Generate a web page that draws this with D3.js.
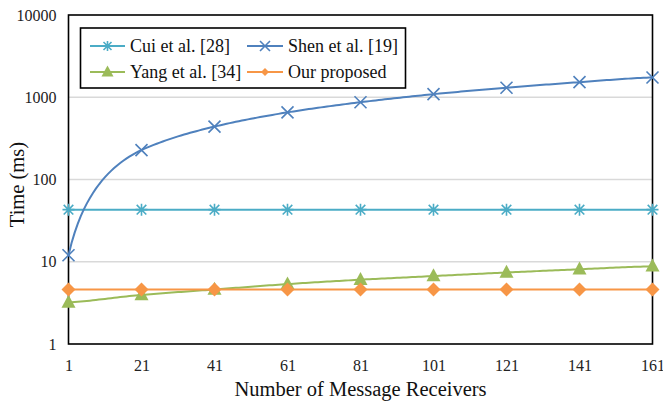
<!DOCTYPE html>
<html>
<head>
<meta charset="utf-8">
<script src="https://cdn.jsdelivr.net/npm/d3@7"></script>
<style>
  html, body { margin: 0; padding: 0; background: #fff; }
</style>
</head>
<body>
<svg id="chart" width="663" height="402"></svg>
<script>
// Receivers on the x axis and timing results (ms) per scheme
const receivers = [1, 21, 41, 61, 81, 101, 121, 141, 161];
const cuiTimes   = [43, 43, 43, 43, 43, 43, 43, 43, 43];
const shenTimes  = [12, 228, 440, 655, 870, 1090, 1305, 1525, 1740];
const yangTimes  = [3.2, 3.95, 4.6, 5.35, 6.05, 6.7, 7.4, 8.1, 8.8];
const ourTimes   = [4.6, 4.6, 4.6, 4.6, 4.6, 4.6, 4.6, 4.6, 4.6];
const yTickValues = [1, 10, 100, 1000, 10000];
const seriesNames = ["Cui et al. [28]", "Shen et al. [19]", "Yang et al. [34]", "Our proposed"];

const serif = "'Liberation Serif', Tinos, 'Times New Roman', 'DejaVu Serif', 'Noto Serif', serif";
const svg = d3.select("#chart");
const plot = { left: 68.5, right: 652.5, top: 15, bottom: 344 };

const x = d3.scaleLinear().domain([1, 161]).range([plot.left, plot.right]);
const y = d3.scaleLog().domain([1, 10000]).range([plot.bottom, plot.top]);

const series = [
  { name: seriesNames[0], values: cuiTimes,  color: "#4BACC6", marker: "asterisk" },
  { name: seriesNames[1], values: shenTimes, color: "#4F81BD", marker: "cross" },
  { name: seriesNames[2], values: yangTimes, color: "#9BBB59", marker: "triangle" },
  { name: seriesNames[3], values: ourTimes,  color: "#F79646", marker: "diamond" }
];

// Horizontal gridlines at each decade
svg.append("g")
  .selectAll("line")
  .data(yTickValues.filter(v => v > 1 && v < 10000))
  .join("line")
  .attr("x1", plot.left).attr("x2", plot.right)
  .attr("y1", d => y(d)).attr("y2", d => y(d))
  .attr("stroke", "#d9d9d9").attr("stroke-width", 1.3);

// Y axis labels
const yAxis = d3.axisLeft(y).tickValues(yTickValues).tickFormat(d3.format("d")).tickSize(0).tickPadding(12);
const gy = svg.append("g").attr("transform", `translate(${plot.left},0)`).call(yAxis);
gy.select(".domain").remove();
gy.selectAll("text").style("font-family", serif).style("font-size", "16px").attr("fill", "#222");

// X axis labels
const xAxis = d3.axisBottom(x).tickValues(receivers).tickFormat(d3.format("d")).tickSize(0).tickPadding(16);
const gx = svg.append("g").attr("transform", `translate(0,${plot.bottom})`).call(xAxis);
gx.select(".domain").remove();
gx.selectAll("text").style("font-family", serif).style("font-size", "16px").attr("fill", "#222");

// Plot frame
svg.append("rect")
  .attr("x", plot.left).attr("y", plot.top)
  .attr("width", plot.right - plot.left).attr("height", plot.bottom - plot.top)
  .attr("fill", "none").attr("stroke", "#000").attr("stroke-width", 1.6);

// Axis titles
svg.append("text")
  .attr("x", (plot.left + plot.right) / 2).attr("y", 396)
  .attr("text-anchor", "middle").attr("fill", "#111")
  .style("font-family", serif).style("font-size", "20.5px")
  .text("Number of Message Receivers");
svg.append("text")
  .attr("transform", `translate(24,${(plot.top + plot.bottom) / 2 + 5}) rotate(-90)`)
  .attr("text-anchor", "middle").attr("fill", "#111")
  .style("font-family", serif).style("font-size", "20.5px")
  .text("Time (ms)");

// Marker shapes
function drawMarker(g, type, color, s) {
  if (type === "asterisk") {
    g.append("path")
      .attr("d", `M${-s},0H${s}M0,${-s}V${s}M${-s * 0.8},${-s * 0.8}L${s * 0.8},${s * 0.8}M${-s * 0.8},${s * 0.8}L${s * 0.8},${-s * 0.8}`)
      .attr("stroke", color).attr("stroke-width", 1.6).attr("fill", "none");
  } else if (type === "cross") {
    g.append("path")
      .attr("d", `M${-s},${-s}L${s},${s}M${-s},${s}L${s},${-s}`)
      .attr("stroke", color).attr("stroke-width", 1.6).attr("fill", "none");
  } else if (type === "triangle") {
    g.append("path")
      .attr("d", `M0,${-s * 1.1}L${s},${s * 0.75}L${-s},${s * 0.75}Z`)
      .attr("fill", color);
  } else if (type === "diamond") {
    g.append("path")
      .attr("d", `M0,${-s}L${s},0L0,${s}L${-s},0Z`)
      .attr("fill", color);
  }
}

// Smooth the series in value space (Catmull-Rom between the measured points),
// then project each sample through the log scale.
function smoothPoints(values) {
  const pts = [];
  const n = values.length;
  for (let i = 0; i < n - 1; i++) {
    const p0 = values[Math.max(i - 1, 0)], p1 = values[i];
    const p2 = values[i + 1], p3 = values[Math.min(i + 2, n - 1)];
    const r0 = receivers[i], r1 = receivers[i + 1];
    const steps = 24;
    for (let k = 0; k < steps; k++) {
      const t = k / steps, t2 = t * t, t3 = t2 * t;
      const v = 0.5 * ((2 * p1) + (-p0 + p2) * t + (2 * p0 - 5 * p1 + 4 * p2 - p3) * t2 + (-p0 + 3 * p1 - 3 * p2 + p3) * t3);
      pts.push([r0 + (r1 - r0) * t, v]);
    }
  }
  pts.push([receivers[n - 1], values[n - 1]]);
  return pts;
}

const line = d3.line()
  .x(d => x(d[0]))
  .y(d => y(d[1]));

series.forEach(s => {
  svg.append("path")
    .datum(smoothPoints(s.values))
    .attr("d", line)
    .attr("fill", "none")
    .attr("stroke", s.color)
    .attr("stroke-width", 2);
});

series.forEach(s => {
  const size = s.marker === "triangle" ? 7 : s.marker === "diamond" ? 7 : 6;
  s.values.forEach((v, i) => {
    const g = svg.append("g").attr("transform", `translate(${x(receivers[i])},${y(v)})`);
    drawMarker(g, s.marker, s.color, size);
  });
});

// Legend
const legend = svg.append("g");
legend.append("rect")
  .attr("x", 80.5).attr("y", 28).attr("width", 325).attr("height", 60)
  .attr("fill", "#fff").attr("stroke", "#000").attr("stroke-width", 1.6);

const legendPos = [
  { lx: 90, tx: 130, y: 46 },
  { lx: 247, tx: 288, y: 46 },
  { lx: 90, tx: 130, y: 72 },
  { lx: 247, tx: 288, y: 72 }
];
series.forEach((s, i) => {
  const p = legendPos[i];
  const lineLen = i % 2 === 0 ? 35 : 36;
  legend.append("line")
    .attr("x1", p.lx).attr("x2", p.lx + lineLen)
    .attr("y1", p.y).attr("y2", p.y)
    .attr("stroke", s.color).attr("stroke-width", 2);
  const g = legend.append("g").attr("transform", `translate(${p.lx + lineLen / 2},${p.y})`);
  const size = s.marker === "diamond" ? 4 : s.marker === "triangle" ? 6 : 5;
  drawMarker(g, s.marker, s.color, size);
  legend.append("text")
    .attr("x", p.tx).attr("y", p.y).attr("dy", "0.33em")
    .attr("fill", "#111")
    .style("font-family", serif).style("font-size", "18px")
    .text(s.name);
});
</script>
</body>
</html>
